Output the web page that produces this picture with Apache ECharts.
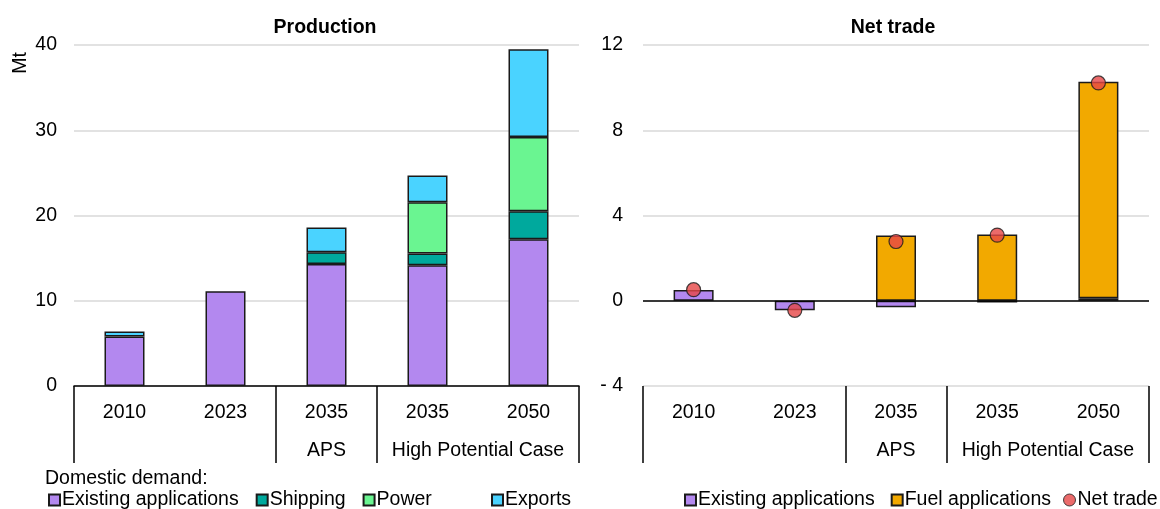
<!DOCTYPE html>
<html>
<head>
<meta charset="utf-8">
<script src="https://cdn.jsdelivr.net/npm/echarts@6/dist/echarts.min.js"></script>
<style>html,body{margin:0;padding:0;background:#fff}#c{width:1160px;height:509px}</style>
</head>
<body>
<div id="c"></div>
<script>
const categories = ['2010', '2023', '2035', '2035', '2050'];
const groups = [
  { label: '', start: 0, end: 2 },
  { label: 'APS', start: 2, end: 3 },
  { label: 'High Potential Case', start: 3, end: 5 }
];
const prodTicks = [0, 10, 20, 30, 40];
const tradeTicks = [-4, 0, 4, 8, 12];

// Production (Mt)
const prodExisting = [5.8, 11.1, 14.3, 14.15, 17.2];
const prodShipping = [null, null, 1.4, 1.4, 3.3];
const prodPower = [null, null, null, 6.0, 8.7];
const prodExports = [0.6, null, 2.9, 3.15, 10.3];

// Net trade (Mt)
const tradeExisting = [0.5, -0.44, -0.31, -0.08, 0.12];
const tradeFuel = [null, null, 3.06, 3.11, 10.16];
const netTrade = [0.52, -0.45, 2.78, 3.08, 10.22];

const FONT = 'Liberation Sans, Arial, sans-serif';
const FS = 19.5;
const C = {
  existing: '#B388EF',
  shipping: '#00A99D',
  power: '#6AF591',
  exports: '#4AD3FF',
  fuel: '#F2A900',
  net: '#E64646'
};
const border = { borderColor: '#1a1a1a', borderWidth: 1.5 };

const sepTicks = [];
groups.forEach(g => { if (!sepTicks.includes(g.start)) sepTicks.push(g.start); if (!sepTicks.includes(g.end)) sepTicks.push(g.end); });
const groupPos = groups.filter(g => g.label).map(g => (g.start + g.end) / 2);
const groupLabelAt = v => { const g = groups.find(g => g.label && (g.start + g.end) / 2 === v); return g ? g.label : ''; };

function catAxis(gi, showLine) {
  return {
    type: 'category', gridIndex: gi, data: categories, position: 'bottom',
    axisLine: { show: showLine, onZero: false, lineStyle: { color: '#000', width: 1.5 } },
    axisTick: { show: false },
    axisLabel: { color: '#000', fontSize: FS, fontFamily: FONT, margin: 17 }
  };
}
function groupAxis(gi) {
  return {
    type: 'value', gridIndex: gi, min: 0, max: categories.length, position: 'bottom',
    axisLine: { show: false, onZero: false },
    splitLine: { show: false },
    axisTick: { show: true, customValues: sepTicks, length: 77, lineStyle: { color: '#000', width: 1.5 } },
    axisLabel: { show: true, customValues: groupPos, formatter: v => groupLabelAt(v), color: '#000', fontSize: FS, fontFamily: FONT, margin: 55 }
  };
}
const legendText = { fontSize: FS, color: '#000', fontFamily: FONT, padding: [0, 0, 0, -3] };
const LT = 490;

const option = {
  animation: false,
  backgroundColor: '#fff',
  textStyle: { fontFamily: FONT },
  title: [
    { text: 'Production', left: 325, top: 18, padding: 0, textAlign: 'center', textStyle: { fontSize: FS, fontWeight: 'bold', color: '#000', fontFamily: FONT } },
    { text: 'Net trade', left: 893, top: 18, padding: 0, textAlign: 'center', textStyle: { fontSize: FS, fontWeight: 'bold', color: '#000', fontFamily: FONT } },
    { text: 'Domestic demand:', left: 45, top: 469, padding: 0, textStyle: { fontSize: FS, fontWeight: 'normal', color: '#000', fontFamily: FONT } }
  ],
  graphic: [
    { type: 'text', left: 11, top: 52, rotation: Math.PI / 2, style: { text: 'Mt', fontSize: FS, fill: '#000', fontFamily: FONT } }
  ],
  legend: [
    {
      left: 48, top: LT, padding: 0, width: 440, itemWidth: 11, itemHeight: 11, itemGap: 17, textStyle: legendText,
      data: [{ name: 'Existing applications', icon: 'rect' }, { name: 'Shipping', icon: 'rect' }, { name: 'Power', icon: 'rect' }]
    },
    {
      left: 491, top: LT, padding: 0, itemWidth: 11, itemHeight: 11, textStyle: legendText,
      data: [{ name: 'Exports', icon: 'rect' }]
    },
    {
      left: 684, top: LT, padding: 0, width: 400, itemWidth: 11, itemHeight: 11, itemGap: 16, textStyle: legendText,
      data: [{ name: 'Existing applications', icon: 'rect' }, { name: 'Fuel applications', icon: 'rect' }]
    },
    {
      left: 1063, top: LT, padding: 0, width: 97, itemWidth: 12, itemHeight: 12, textStyle: legendText,
      data: [{ name: 'Net trade', icon: 'circle', itemStyle: { borderWidth: 1 } }]
    }
  ],
  grid: [
    { left: 74, right: 581, top: 45, bottom: 123 },
    { left: 643, right: 11, top: 45, bottom: 123 }
  ],
  xAxis: [catAxis(0, true), groupAxis(0), catAxis(1, false), groupAxis(1)],
  yAxis: [
    {
      type: 'value', gridIndex: 0, min: prodTicks[0], max: prodTicks[prodTicks.length - 1], interval: prodTicks[1] - prodTicks[0],
      axisLine: { show: false }, axisTick: { show: false },
      axisLabel: { color: '#000', fontSize: FS, fontFamily: FONT, margin: 17 },
      splitLine: { lineStyle: { color: '#d9d9d9', width: 1.5 } }
    },
    {
      type: 'value', gridIndex: 1, min: tradeTicks[0], max: tradeTicks[tradeTicks.length - 1], interval: tradeTicks[1] - tradeTicks[0],
      axisLine: { show: false }, axisTick: { show: false },
      axisLabel: { color: '#000', fontSize: FS, fontFamily: FONT, margin: 20, formatter: v => v < 0 ? '- ' + (-v) : String(v) },
      splitLine: { lineStyle: { color: '#d9d9d9', width: 1.5 } }
    }
  ],
  series: [
    { name: 'Existing applications', type: 'bar', xAxisIndex: 0, yAxisIndex: 0, stack: 'p', barWidth: 40, data: prodExisting, itemStyle: Object.assign({ color: C.existing }, border) },
    { name: 'Shipping', type: 'bar', xAxisIndex: 0, yAxisIndex: 0, stack: 'p', barWidth: 40, data: prodShipping, itemStyle: Object.assign({ color: C.shipping }, border) },
    { name: 'Power', type: 'bar', xAxisIndex: 0, yAxisIndex: 0, stack: 'p', barWidth: 40, data: prodPower, itemStyle: Object.assign({ color: C.power }, border) },
    { name: 'Exports', type: 'bar', xAxisIndex: 0, yAxisIndex: 0, stack: 'p', barWidth: 40, data: prodExports, itemStyle: Object.assign({ color: C.exports }, border) },
    {
      name: 'Existing applications', type: 'bar', xAxisIndex: 2, yAxisIndex: 1, stack: 't', barWidth: 40, data: tradeExisting, itemStyle: Object.assign({ color: C.existing }, border),
      markLine: { silent: true, symbol: 'none', label: { show: false }, lineStyle: { color: '#000', type: 'solid', width: 1.5 }, data: [{ yAxis: 0 }] }
    },
    { name: 'Fuel applications', type: 'bar', xAxisIndex: 2, yAxisIndex: 1, stack: 't', barWidth: 40, data: tradeFuel, itemStyle: Object.assign({ color: C.fuel }, border) },
    { name: 'Net trade', type: 'scatter', xAxisIndex: 2, yAxisIndex: 1, symbol: 'circle', symbolSize: 14, data: netTrade, z: 5, itemStyle: { color: C.net, borderColor: '#1a1a1a', borderWidth: 1.2 } }
  ]
};

const chart = echarts.init(document.getElementById('c'), null, { renderer: 'canvas' });
chart.setOption(option);
</script>
</body>
</html>
